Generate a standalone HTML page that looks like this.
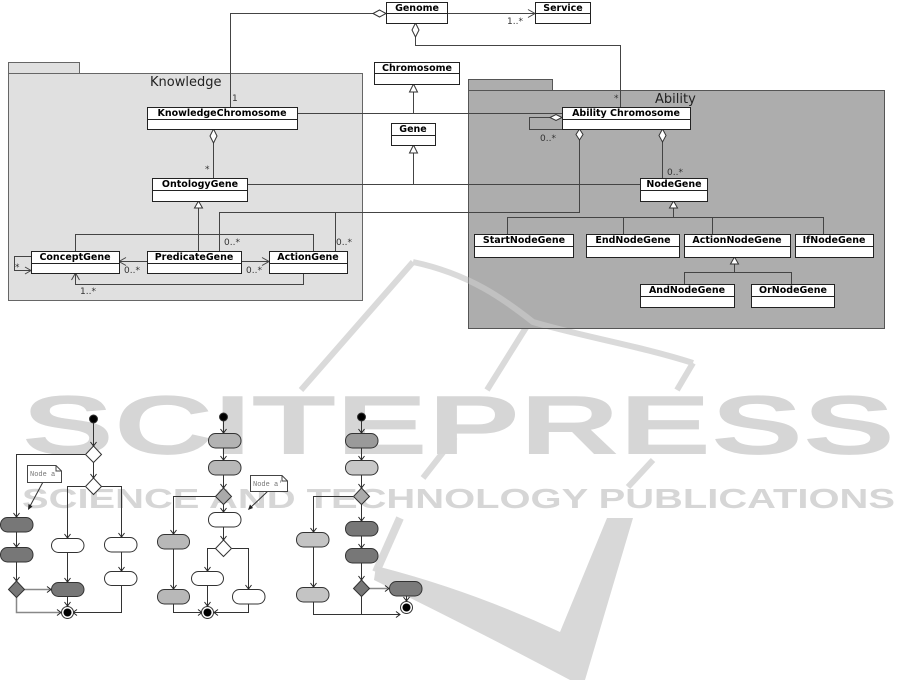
<!DOCTYPE html>
<html><head><meta charset="utf-8"><style>
html,body{margin:0;padding:0;background:#fff;}
svg{display:block;}
.cn{font-family:"DejaVu Sans","Liberation Sans",sans-serif;font-weight:bold;font-size:9.5px;fill:#000;text-anchor:middle;}
.lb{font-family:"DejaVu Sans","Liberation Sans",sans-serif;font-size:9px;fill:#333;}
.pk{font-family:"DejaVu Sans","Liberation Sans",sans-serif;font-size:13px;fill:#222;}
.nt{font-family:"Liberation Mono",monospace;font-size:7px;fill:#777;}
</style></head><body>
<svg width="913" height="684" viewBox="0 0 913 684" xmlns="http://www.w3.org/2000/svg">
<defs>
<clipPath id="abc"><rect x="468" y="90" width="416" height="238"/></clipPath>
</defs>
<rect width="913" height="684" fill="#fff"/>

<!-- watermark -->
<g fill="none" stroke="#dadada" stroke-width="6">
<path d="M413,262 L301,390"/>
<path d="M413,262 C470,274 505,300 533,322 C580,336 640,346 693,363"/>
<path d="M693,363 L677,390"/>
<path d="M527,326 L487,390"/>
<path d="M455,437 L423,478"/>
<path d="M653,460 L628,487"/>
<path d="M400,518 L376,572" stroke-width="8"/>
</g>
<path d="M376,566 Q470,590 560,632 L607,518 L633,518 L585,680 L570,680 Q480,632 374,580 Z" fill="#d8d8d8"/>
<text x="22" y="454" font-family="Liberation Sans" font-weight="bold" font-size="84" fill="#d6d6d6" textLength="873" lengthAdjust="spacingAndGlyphs">SCITEPRESS</text>
<text x="22" y="508" font-family="Liberation Sans" font-weight="bold" font-size="28" fill="#d6d6d6" textLength="873" lengthAdjust="spacingAndGlyphs">SCIENCE AND TECHNOLOGY PUBLICATIONS</text>

<!-- packages -->
<rect x="8.5" y="62.5" width="71" height="11" fill="#e0e0e0" stroke="#666"/>
<rect x="8.5" y="73.5" width="354" height="227" fill="#e0e0e0" stroke="#666"/>
<text class="pk" x="150" y="86">Knowledge</text>
<rect x="468.5" y="79.5" width="84" height="11" fill="#adadad" stroke="#555"/>
<rect x="468.5" y="90.5" width="416" height="238" fill="#adadad" stroke="#555"/>
<text class="pk" x="655" y="103">Ability</text>
<g clip-path="url(#abc)"><path d="M413,262 C470,274 505,300 533,322 C580,336 640,346 693,363" fill="none" stroke="#fff" stroke-opacity="0.25" stroke-width="6"/></g>

<!-- connectors -->
<g fill="none" stroke="#444" stroke-width="1">
<path d="M373,13.5 H230.5 V107"/>
<path d="M415.5,37 V45.5 H620.5 V107"/>
<path d="M447,13.5 H535"/>
<path d="M528,9.5 L535,13.5 L528,17.5"/>
<path d="M413.5,92 V113.5"/>
<path d="M297,113.5 H562"/>
<path d="M413.5,153 V184.5"/>
<path d="M247,184.5 H640"/>
<path d="M213.5,143 V178"/>
<path d="M198.5,208 V251"/>
<path d="M579.5,140 V212.5 H219.5 V251"/>
<path d="M335.5,212.5 V251"/>
<path d="M75.5,251 V234.5 H313.5 V251"/>
<path d="M147,261.5 H119"/>
<path d="M126,257.5 L119,261.5 L126,265.5"/>
<path d="M241,261.5 H269"/>
<path d="M262,257.5 L269,261.5 L262,265.5"/>
<path d="M31,256.5 H14.5 V270.5 H31"/>
<path d="M25,267 L31,270.5 L25,274"/>
<path d="M303.5,273 V284.5 H75.5 V273"/>
<path d="M71.5,280 L75.5,273 L79.5,280"/>
<path d="M550,117.5 H529.5 V129.5 H562"/>
<path d="M662.5,142 V178"/>
<path d="M673.5,208 V217.5"/>
<path d="M507.5,234 V217.5 H823.5 V234"/>
<path d="M623.5,217.5 V234"/>
<path d="M712.5,217.5 V234"/>
<path d="M734.5,264 V272.5"/>
<path d="M684.5,284 V272.5 H791.5 V284"/>
</g>
<!-- diamonds & triangles -->
<g fill="#fff" stroke="#333" stroke-width="1">
<polygon points="386,13.5 379.5,10 373,13.5 379.5,17"/>
<polygon points="415.5,23 419,30 415.5,37 412,30"/>
<polygon points="213.5,129 217,136 213.5,143 210,136"/>
<polygon points="562,117.5 556,114.5 550,117.5 556,120.5"/>
<polygon points="579.5,129 583,134.5 579.5,140 576,134.5"/>
<polygon points="662.5,129 666,135.5 662.5,142 659,135.5"/>
<polygon points="413.5,84 409.5,92 417.5,92"/>
<polygon points="413.5,145 409.5,153 417.5,153"/>
<polygon points="198.5,201 194.5,208 202.5,208"/>
<polygon points="673.5,201 669.5,208 677.5,208"/>
<polygon points="734.5,257 730.5,264 738.5,264"/>
</g>

<!-- labels -->
<text class="lb" x="232" y="101">1</text>
<text class="lb" x="614" y="101">*</text>
<text class="lb" x="507" y="24">1..*</text>
<text class="lb" x="205" y="172">*</text>
<text class="lb" x="224" y="245">0..*</text>
<text class="lb" x="336" y="245">0..*</text>
<text class="lb" x="124" y="273">0..*</text>
<text class="lb" x="246" y="273">0..*</text>
<text class="lb" x="15" y="270">*</text>
<text class="lb" x="80" y="294">1..*</text>
<text class="lb" x="540" y="141">0..*</text>
<text class="lb" x="667" y="175">0..*</text>

<!-- class boxes -->
<g fill="#fff" stroke="#222" stroke-width="1">
<rect x="386.5" y="2.5" width="61" height="21"/><path d="M386.5,13.5 H447.5"/>
<rect x="535.5" y="2.5" width="55" height="21"/><path d="M535.5,13.5 H590.5"/>
<rect x="374.5" y="62.5" width="85" height="22"/><path d="M374.5,73.5 H459.5"/>
<rect x="391.5" y="123.5" width="44" height="22"/><path d="M391.5,135.5 H435.5"/>
<rect x="147.5" y="107.5" width="150" height="22"/><path d="M147.5,119.5 H297.5"/>
<rect x="152.5" y="178.5" width="95" height="23"/><path d="M152.5,190.5 H247.5"/>
<rect x="31.5" y="251.5" width="88" height="22"/><path d="M31.5,263.5 H119.5"/>
<rect x="147.5" y="251.5" width="94" height="22"/><path d="M147.5,263.5 H241.5"/>
<rect x="269.5" y="251.5" width="78" height="22"/><path d="M269.5,263.5 H347.5"/>
<rect x="562.5" y="107.5" width="128" height="22"/><path d="M562.5,119.5 H690.5"/>
<rect x="640.5" y="178.5" width="67" height="23"/><path d="M640.5,190.5 H707.5"/>
<rect x="474.5" y="234.5" width="99" height="23"/><path d="M474.5,246.5 H573.5"/>
<rect x="586.5" y="234.5" width="93" height="23"/><path d="M586.5,246.5 H679.5"/>
<rect x="684.5" y="234.5" width="106" height="23"/><path d="M684.5,246.5 H790.5"/>
<rect x="795.5" y="234.5" width="78" height="23"/><path d="M795.5,246.5 H873.5"/>
<rect x="640.5" y="284.5" width="94" height="23"/><path d="M640.5,296.5 H734.5"/>
<rect x="751.5" y="284.5" width="83" height="23"/><path d="M751.5,296.5 H834.5"/>
</g>
<text class="cn" x="417" y="11">Genome</text>
<text class="cn" x="563" y="11">Service</text>
<text class="cn" x="417" y="71">Chromosome</text>
<text class="cn" x="413" y="132">Gene</text>
<text class="cn" x="222" y="116">KnowledgeChromosome</text>
<text class="cn" x="200" y="187">OntologyGene</text>
<text class="cn" x="75" y="260">ConceptGene</text>
<text class="cn" x="194" y="260">PredicateGene</text>
<text class="cn" x="308" y="260">ActionGene</text>
<text class="cn" x="626" y="116">Ability Chromosome</text>
<text class="cn" x="674" y="187">NodeGene</text>
<text class="cn" x="524" y="243">StartNodeGene</text>
<text class="cn" x="633" y="243">EndNodeGene</text>
<text class="cn" x="737" y="243">ActionNodeGene</text>
<text class="cn" x="834" y="243">IfNodeGene</text>
<text class="cn" x="687" y="293">AndNodeGene</text>
<text class="cn" x="793" y="293">OrNodeGene</text>

<!-- activity diagrams: lines -->
<g fill="none" stroke="#333" stroke-width="1">
<!-- d1 -->
<path d="M93.5,423 V446"/>
<path d="M85,454.5 H16.5 V517"/>
<path d="M93.5,462 V478"/>
<path d="M85,486.5 H67.5 V538"/>
<path d="M101,486.5 H121.5 V537"/>
<path d="M16.5,532 V547"/>
<path d="M16.5,561 V581"/>
<path d="M67.5,552 V582"/>
<path d="M67.5,596 V606"/>
<path d="M121.5,552 V571"/>
<path d="M121.5,585 V612.5 H73"/>
<path d="M43,482 L29,508"/>
<!-- d2 -->
<path d="M223.5,421 V433"/>
<path d="M223.5,448 V460"/>
<path d="M223.5,475 V488"/>
<path d="M216,496.5 H173.5 V534"/>
<path d="M223.5,504 V512"/>
<path d="M223.5,527 V540"/>
<path d="M216,548.5 H207.5 V571"/>
<path d="M232,548.5 H248.5 V589"/>
<path d="M173.5,549 V589"/>
<path d="M173.5,604 V612.5 H202"/>
<path d="M248.5,604 V612.5 H214"/>
<path d="M207.5,585 V606"/>
<path d="M268,491 L249,509"/>
<!-- d3 -->
<path d="M361.5,421 V433"/>
<path d="M361.5,448 V460"/>
<path d="M361.5,475 V488"/>
<path d="M353,496.5 H313.5 V532"/>
<path d="M313.5,547 V587"/>
<path d="M313.5,602 V614.5 H400"/>
<path d="M361.5,504 V521"/>
<path d="M361.5,536 V548"/>
<path d="M361.5,563 V580"/>
<path d="M361.5,596 V614"/>
<path d="M406.5,596 V601"/>
</g>
<g fill="none" stroke="#888" stroke-width="1.5">
<path d="M24,589.5 H51"/>
<path d="M16.5,597 V612.5 H61"/>
<path d="M369,588.5 H389"/>
</g>
<!-- small arrowheads -->
<g fill="none" stroke="#222" stroke-width="1">
<path d="M90.5,442 L93.5,446 L96.5,442"/>
<path d="M13.5,513 L16.5,517 L19.5,513"/>
<path d="M90.5,474 L93.5,478 L96.5,474"/>
<path d="M64.5,534 L67.5,538 L70.5,534"/>
<path d="M118.5,533 L121.5,537 L124.5,533"/>
<path d="M13.5,543 L16.5,547 L19.5,543"/>
<path d="M13.5,577 L16.5,581 L19.5,577"/>
<path d="M47,586.5 L51,589.5 L47,592.5"/>
<path d="M64.5,578 L67.5,582 L70.5,578"/>
<path d="M64.5,602 L67.5,606 L70.5,602"/>
<path d="M118.5,567 L121.5,571 L124.5,567"/>
<path d="M77,609.5 L73,612.5 L77,615.5"/>
<path d="M57,609.5 L61,612.5 L57,615.5"/>
<path d="M220.5,429 L223.5,433 L226.5,429"/>
<path d="M220.5,456 L223.5,460 L226.5,456"/>
<path d="M220.5,484 L223.5,488 L226.5,484"/>
<path d="M170.5,530 L173.5,534 L176.5,530"/>
<path d="M220.5,508 L223.5,512 L226.5,508"/>
<path d="M220.5,536 L223.5,540 L226.5,536"/>
<path d="M204.5,567 L207.5,571 L210.5,567"/>
<path d="M245.5,585 L248.5,589 L251.5,585"/>
<path d="M170.5,585 L173.5,589 L176.5,585"/>
<path d="M198,609.5 L202,612.5 L198,615.5"/>
<path d="M218,609.5 L214,612.5 L218,615.5"/>
<path d="M204.5,602 L207.5,606 L210.5,602"/>
<path d="M358.5,429 L361.5,433 L364.5,429"/>
<path d="M358.5,456 L361.5,460 L364.5,456"/>
<path d="M358.5,484 L361.5,488 L364.5,484"/>
<path d="M310.5,528 L313.5,532 L316.5,528"/>
<path d="M310.5,583 L313.5,587 L316.5,583"/>
<path d="M358.5,517 L361.5,521 L364.5,517"/>
<path d="M358.5,544 L361.5,548 L364.5,544"/>
<path d="M358.5,576 L361.5,580 L364.5,576"/>
<path d="M385,585.5 L389,588.5 L385,591.5"/>
<path d="M403.5,597 L406.5,601 L409.5,597"/>
<path d="M396,611.5 L400,614.5 L396,617.5"/>
</g>
<polygon points="28,510 28.5,504 32.5,506.5" fill="#222"/>
<polygon points="248,510 250,504.5 253,508" fill="#222"/>

<!-- activity nodes -->
<g stroke="#333" stroke-width="1">
<circle cx="93.5" cy="419" r="4" fill="#000"/>
<polygon points="93.5,446 101.5,454.5 93.5,462.5 85.5,454.5" fill="#fff"/>
<polygon points="93.5,478 101.5,486.5 93.5,494.5 85.5,486.5" fill="#fff"/>
<rect x="0.5" y="517.5" width="32.5" height="14.5" rx="7" fill="#777"/>
<rect x="0.5" y="547.5" width="32.5" height="14.5" rx="7" fill="#777"/>
<polygon points="16.5,581 24.5,589.5 16.5,597.5 8.5,589.5" fill="#777"/>
<rect x="51.5" y="582.5" width="32.5" height="14" rx="7" fill="#777"/>
<rect x="51.5" y="538.5" width="32.5" height="14" rx="7" fill="#fff"/>
<rect x="104.5" y="537.5" width="32.5" height="14.5" rx="7" fill="#fff"/>
<rect x="104.5" y="571.5" width="32.5" height="14" rx="7" fill="#fff"/>
<circle cx="67.5" cy="612.5" r="6" fill="#fff"/>
<circle cx="67.5" cy="612.5" r="4" fill="#000" stroke="none"/>

<circle cx="223.5" cy="417" r="4" fill="#000"/>
<rect x="208.5" y="433.5" width="32.5" height="14.5" rx="7" fill="#b3b3b3"/>
<rect x="208.5" y="460.5" width="32.5" height="14.5" rx="7" fill="#b8b8b8"/>
<polygon points="223.5,488 231.5,496.5 223.5,504.5 215.5,496.5" fill="#aaa"/>
<rect x="208.5" y="512.5" width="32.5" height="14.5" rx="7" fill="#fff"/>
<polygon points="223.5,540 231.5,548.5 223.5,556.5 215.5,548.5" fill="#fff"/>
<rect x="191.5" y="571.5" width="32" height="14" rx="7" fill="#fff"/>
<rect x="232.5" y="589.5" width="32.5" height="14.5" rx="7" fill="#fff"/>
<rect x="157.5" y="534.5" width="32" height="14.5" rx="7" fill="#b8b8b8"/>
<rect x="157.5" y="589.5" width="32" height="14.5" rx="7" fill="#b8b8b8"/>
<circle cx="207.5" cy="612.5" r="6" fill="#fff"/>
<circle cx="207.5" cy="612.5" r="4" fill="#000" stroke="none"/>

<circle cx="361.5" cy="417" r="4" fill="#000"/>
<rect x="345.5" y="433.5" width="32.5" height="14.5" rx="7" fill="#9a9a9a"/>
<rect x="345.5" y="460.5" width="32.5" height="14.5" rx="7" fill="#c8c8c8"/>
<polygon points="361.5,488 369.5,496.5 361.5,504.5 353.5,496.5" fill="#aaa"/>
<rect x="296.5" y="532.5" width="32.5" height="14.5" rx="7" fill="#c4c4c4"/>
<rect x="296.5" y="587.5" width="32.5" height="14.5" rx="7" fill="#c4c4c4"/>
<rect x="345.5" y="521.5" width="32.5" height="14.5" rx="7" fill="#777"/>
<rect x="345.5" y="548.5" width="32.5" height="14.5" rx="7" fill="#777"/>
<polygon points="361.5,580 369.5,588.5 361.5,596.5 353.5,588.5" fill="#777"/>
<rect x="389.5" y="581.5" width="32.5" height="14.5" rx="7" fill="#7a7a7a"/>
<circle cx="406.5" cy="607.5" r="6" fill="#fff"/>
<circle cx="406.5" cy="607.5" r="4" fill="#000" stroke="none"/>
</g>

<!-- notes -->
<g fill="#fff" stroke="#444" stroke-width="1">
<path d="M27.5,465.5 H56 L61.5,471 V482.5 H27.5 Z"/>
<path d="M56,465.5 V471 H61.5" fill="none"/>
<path d="M250.5,475.5 H282 L287.5,481 V491.5 H250.5 Z"/>
<path d="M282,475.5 V481 H287.5" fill="none"/>
</g>
<text class="nt" x="30" y="476">Node a</text>
<text class="nt" x="253" y="486">Node a'</text>
</svg>
</body></html>
